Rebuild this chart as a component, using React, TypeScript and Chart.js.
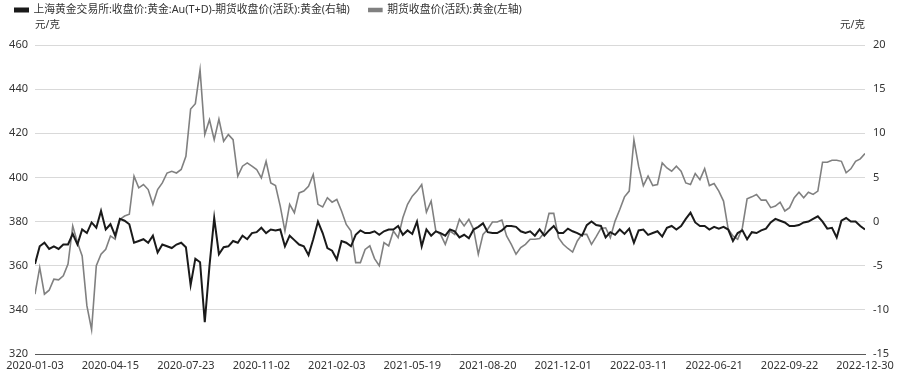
import React, { useEffect, useRef } from "react";
import { Chart, registerables } from "chart.js";

Chart.register(...registerables);

const TICK_LABELS = [
  "2020-01-03", "2020-04-15", "2020-07-23", "2020-11-02", "2021-02-03", "2021-05-19",
  "2021-08-20", "2021-12-01", "2022-03-11", "2022-06-21", "2022-09-22", "2022-12-30",
];
const POINTS_PER_TICK = 16;

const SPREAD_NAME = "上海黄金交易所:收盘价:黄金:Au(T+D)-期货收盘价(活跃):黄金(右轴)";
const FUTURES_NAME = "期货收盘价(活跃):黄金(左轴)";
const UNIT = "元/克";

// black line, right axis
const SPREAD = [
  -4.8, -2.8, -2.4, -3.1, -2.8, -3.1, -2.6, -2.6, -1.4, -2.6,
  -0.9, -1.3, -0.1, -0.7, 1.2, -0.9, -0.3, -1.6, 0.3, 0.1,
  -0.3, -2.4, -2.2, -2.0, -2.4, -1.6, -3.5, -2.6, -2.8, -3.0,
  -2.6, -2.4, -2.9, -7.2, -4.2, -4.6, -11.4, -5.0, 0.4, -3.7,
  -2.9, -2.8, -2.2, -2.4, -1.6, -2.0, -1.3, -1.2, -0.7, -1.3,
  -0.9, -1.0, -0.9, -2.8, -1.6, -2.1, -2.6, -2.8, -3.8, -2.0,
  0.0, -1.3, -3.0, -3.3, -4.3, -2.2, -2.4, -2.8, -1.5, -1.0,
  -1.3, -1.3, -1.1, -1.5, -1.1, -0.9, -0.9, -0.5, -1.5, -1.0,
  -1.4, 0.0, -2.8, -0.9, -1.6, -1.1, -1.3, -1.6, -0.9, -1.1,
  -1.8, -1.5, -1.9, -0.9, -0.6, -0.2, -1.2, -1.3, -1.3, -1.0,
  -0.5, -0.5, -0.6, -1.1, -1.3, -1.1, -1.6, -0.9, -1.6, -1.0,
  -0.5, -1.3, -1.3, -0.8, -1.1, -1.3, -1.6, -0.4, 0.0, -0.4,
  -0.5, -1.8, -1.2, -1.5, -0.9, -1.4, -0.8, -2.4, -1.0, -0.9,
  -1.5, -1.3, -1.1, -1.7, -0.7, -0.5, -0.9, -0.5, 0.3, 1.0,
  -0.1, -0.5, -0.5, -0.9, -0.6, -0.8, -0.6, -0.9, -2.2, -1.3,
  -1.0, -2.0, -1.2, -1.3, -1.0, -0.8, -0.1, 0.3, 0.1, -0.1,
  -0.5, -0.5, -0.4, -0.1, 0.0, 0.3, 0.6, 0.0, -0.8, -0.7,
  -1.8, 0.1, 0.4, 0.0, 0.0, -0.5, -0.9,
];

// gray line, left axis
const FUTURES = [
  347.1, 359.2, 347.1, 348.9, 353.9, 353.6, 355.4, 360.7, 378.0, 370.5,
  364.4, 341.9, 331.0, 360.0, 365.2, 367.4, 373.5, 372.0, 381.0, 382.5,
  383.3, 400.6, 395.3, 396.8, 394.5, 387.8, 394.5, 397.5, 402.0, 402.8,
  402.0, 403.6, 409.6, 431.0, 433.4, 448.7, 419.4, 426.1, 417.1, 426.4,
  416.4, 419.4, 417.1, 400.6, 405.1, 406.6, 405.1, 403.6, 399.8, 407.3,
  397.5, 396.3, 387.0, 375.7, 387.8, 384.0, 393.0, 393.8, 396.0, 401.3,
  387.8, 386.6, 390.8, 388.8, 390.0, 384.8, 378.7, 375.7, 361.4, 361.4,
  367.4, 369.0, 363.2, 360.0, 370.5, 369.0, 375.7, 372.7, 381.7, 387.8,
  391.5, 393.8, 396.8, 384.3, 389.3, 375.7, 374.2, 369.7, 375.7, 374.2,
  381.0, 378.0, 381.0, 376.5, 365.2, 374.2, 376.5, 379.8, 379.8, 380.7,
  373.5, 369.7, 365.2, 368.2, 369.7, 372.0, 372.0, 372.3, 375.0, 383.7,
  383.7, 372.7, 369.7, 367.8, 366.2, 371.2, 374.2, 374.2, 369.7, 373.2,
  376.9, 377.2, 372.7, 380.2, 385.5, 391.2, 393.8, 417.0, 405.0, 396.3,
  400.6, 396.3, 396.8, 406.6, 404.3, 402.8, 405.1, 402.8, 397.5, 396.8,
  401.8, 399.0, 404.0, 396.3, 397.2, 393.8, 389.3, 376.5, 373.5, 372.0,
  377.2, 390.3, 391.2, 392.3, 389.7, 389.7, 386.3, 387.0, 388.8, 384.8,
  386.3, 390.8, 393.3, 390.8, 393.3, 392.3, 393.8, 406.9, 406.9, 407.8,
  407.8, 407.3, 402.1, 403.9, 407.3, 408.4, 410.8,
];

const FONT = '"Noto Sans", "Noto Sans CJK SC", sans-serif';
const TEXT_COLOR = "#333333";
const LEGEND_GAP = 19;

export default function App() {
  const canvasRef = useRef<HTMLCanvasElement | null>(null);

  useEffect(() => {
    document.body.style.margin = "0";
    const canvas = canvasRef.current;
    if (!canvas) return;

    const unitPlugin = {
      id: "unitLabels",
      afterDraw(chart: any) {
        const { ctx, chartArea } = chart;
        ctx.save();
        ctx.font = `10.5px ${FONT}`;
        ctx.fillStyle = TEXT_COLOR;
        ctx.textBaseline = "middle";
        ctx.textAlign = "left";
        ctx.fillText(UNIT, chartArea.left, chartArea.top - 20);
        ctx.textAlign = "right";
        ctx.fillText(UNIT, chartArea.right, chartArea.top - 20);
        ctx.restore();
      },
    };

    const legendPlacePlugin = {
      id: "legendPlace",
      beforeInit(chart: any) {
        const legend = chart.legend;
        if (!legend) return;
        const fit = legend.fit;
        legend.fit = function () {
          fit.call(this);
          this.height = 45;
        };
      },
      afterLayout(chart: any) {
        const legend = chart.legend;
        if (!legend) return;
        legend.left = 15 - LEGEND_GAP;
        legend.top = 4.6 - LEGEND_GAP;
      },
    };

    const lastIndex = (TICK_LABELS.length - 1) * POINTS_PER_TICK;

    const chart = new Chart(canvas, {
      type: "line",
      data: {
        datasets: [
          {
            label: SPREAD_NAME,
            data: SPREAD.map((v, i) => ({ x: i, y: v })),
            yAxisID: "y1",
            borderColor: "#1a1a1a",
            backgroundColor: "#1a1a1a",
            borderWidth: 2,
            pointRadius: 0,
            tension: 0,
          },
          {
            label: FUTURES_NAME,
            data: FUTURES.map((v, i) => ({ x: i, y: v })),
            yAxisID: "y",
            borderColor: "#808080",
            backgroundColor: "#808080",
            borderWidth: 1.6,
            pointRadius: 0,
            tension: 0,
          },
        ],
      },
      options: {
        animation: false,
        responsive: true,
        maintainAspectRatio: false,
        layout: { padding: { left: 0, right: 0, top: 0, bottom: 0 } },
        plugins: {
          legend: {
            display: true,
            position: "top",
            align: "start",
            labels: {
              boxWidth: 13,
              boxHeight: 3,
              padding: LEGEND_GAP,
              color: TEXT_COLOR,
              font: { family: FONT, size: 10.8 },
            },
          },
          tooltip: { enabled: false },
        },
        scales: {
          x: {
            type: "linear",
            min: 0,
            max: lastIndex,
            afterBuildTicks(scale: any) {
              scale.ticks = TICK_LABELS.map((_, k) => ({ value: k * POINTS_PER_TICK }));
            },
            afterFit(scale: any) {
              scale.height = 22;
            },
            ticks: {
              autoSkip: false,
              maxRotation: 0,
              padding: 5,
              color: TEXT_COLOR,
              font: { family: FONT, size: 11 },
              callback: (value: any) => TICK_LABELS[Math.round(Number(value) / POINTS_PER_TICK)] ?? "",
            },
            grid: { display: false, drawTicks: false },
            border: { display: true, color: "#595959", width: 1 },
          },
          y: {
            position: "left",
            min: 320,
            max: 460,
            afterFit(scale: any) {
              scale.width = 35;
            },
            ticks: {
              stepSize: 20,
              padding: 7,
              color: TEXT_COLOR,
              font: { family: FONT, size: 11 },
            },
            grid: { color: "#d9d9d9", drawTicks: false, lineWidth: 1 },
            border: { display: false },
          },
          y1: {
            position: "right",
            min: -15,
            max: 20,
            afterFit(scale: any) {
              scale.width = 35;
            },
            ticks: {
              stepSize: 5,
              padding: 8,
              color: TEXT_COLOR,
              font: { family: FONT, size: 11 },
            },
            grid: { display: false, drawTicks: false },
            border: { display: false },
          },
        },
      },
      plugins: [unitPlugin, legendPlacePlugin],
    });

    return () => chart.destroy();
  }, []);

  return (
    <div style={{ width: 900, height: 376, position: "relative" }}>
      <canvas ref={canvasRef} />
    </div>
  );
}
